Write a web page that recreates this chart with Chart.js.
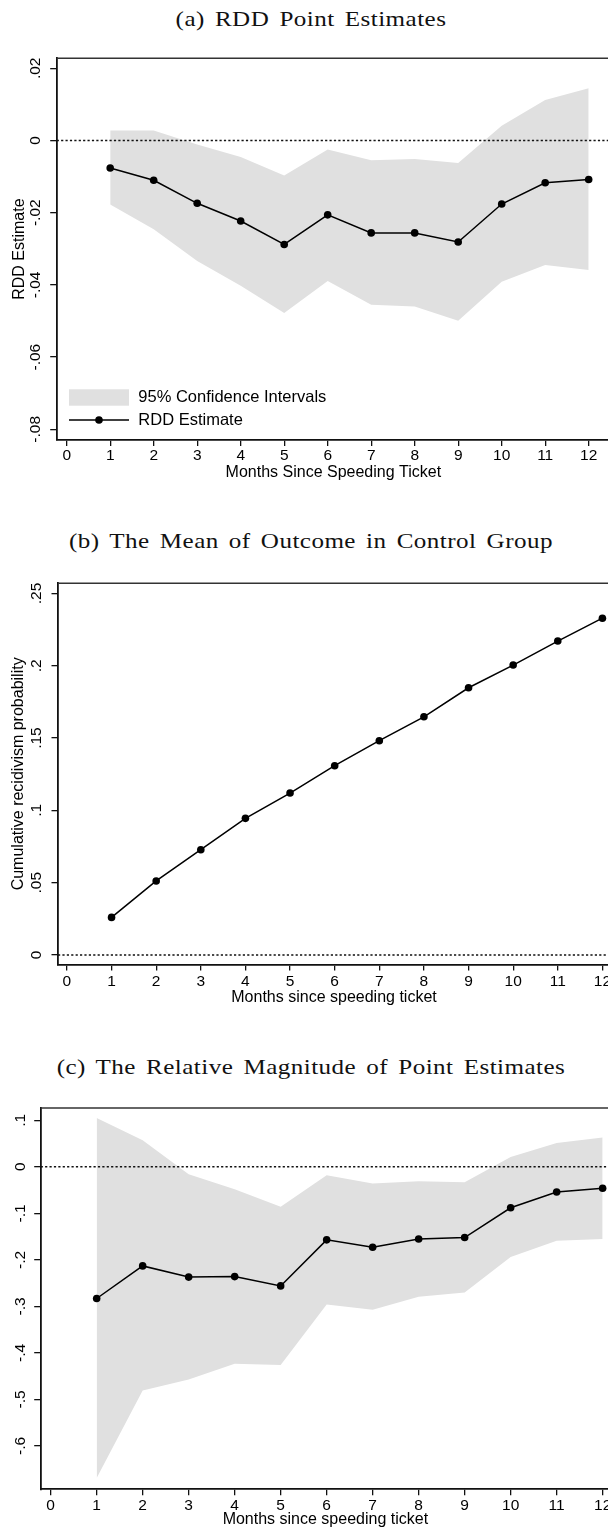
<!DOCTYPE html>
<html lang="en">
<head>
<meta charset="UTF-8">
<meta name="viewport" content="width=device-width, initial-scale=1">
<title>RDD Estimates by Month</title>
<script src="https://cdn.jsdelivr.net/npm/chart.js@4"></script>
<style>
    html, body {
        margin: 0;
        padding: 0;
        background: #fff;
        overflow: hidden;
    }
    body {
        position: relative;
        width: 608px;
        height: 1532px;
    }
    .panel-title {
        position: absolute;
        left: 0;
        width: 622px;
        text-align: center;
        font-family: "Liberation Serif", "Times New Roman", serif;
        font-size: 22px;
        line-height: 1;
        letter-spacing: 0.4px;
        word-spacing: 3px;
        color: #111;
        white-space: nowrap;
        transform: scaleX(1.14);
        transform-origin: 311px 0;
    }
    canvas {
        position: absolute;
        left: 0;
    }
</style>
</head>
<body>
    <div class="panel-title" style="top:8px">(a) RDD Point Estimates</div>
    <canvas id="chartA" width="614" height="490" style="top:0"></canvas>

    <div class="panel-title" style="top:530px">(b) The Mean of Outcome in Control Group</div>
    <canvas id="chartB" width="614" height="520" style="top:490px"></canvas>

    <div class="panel-title" style="top:1056px">(c) The Relative Magnitude of Point Estimates</div>
    <canvas id="chartC" width="614" height="522" style="top:1010px"></canvas>

<script>
// months on the x axis
const months = [1, 2, 3, 4, 5, 6, 7, 8, 9, 10, 11, 12];
const xTicks = [0, 1, 2, 3, 4, 5, 6, 7, 8, 9, 10, 11, 12];
const xLabels = ['0', '1', '2', '3', '4', '5', '6', '7', '8', '9', '10', '11', '12'];

// (a) RDD point estimates + 95% CI
const rddEst   = [-0.0076, -0.0110, -0.0174, -0.0223, -0.0288, -0.0206, -0.0256, -0.0256, -0.0281, -0.0176, -0.0117, -0.0108];
const rddUpper = [0.0028, 0.0028, -0.0011, -0.0046, -0.0097, -0.0025, -0.0055, -0.0051, -0.0062, 0.0041, 0.0112, 0.0145];
const rddLower = [-0.0177, -0.0246, -0.0334, -0.0402, -0.0478, -0.0389, -0.0455, -0.0460, -0.0499, -0.0391, -0.0345, -0.0359];
const yTicksA  = [-0.08, -0.06, -0.04, -0.02, 0, 0.02];
const yLabelsA = ['-.08', '-.06', '-.04', '-.02', '0', '.02'];

// (b) control group mean (cumulative recidivism)
const ctrlMean = [0.0260, 0.0512, 0.0728, 0.0945, 0.1120, 0.1309, 0.1482, 0.1647, 0.1848, 0.2005, 0.2171, 0.2329];
const yTicksB  = [0, 0.05, 0.1, 0.15, 0.2, 0.25];
const yLabelsB = ['0', '.05', '.1', '.15', '.2', '.25'];

// (c) relative magnitude + CI
const relEst   = [-0.283, -0.213, -0.237, -0.236, -0.256, -0.157, -0.173, -0.155, -0.152, -0.088, -0.054, -0.046];
const relUpper = [0.105, 0.057, -0.016, -0.048, -0.086, -0.018, -0.036, -0.031, -0.033, 0.021, 0.051, 0.063];
const relLower = [-0.669, -0.481, -0.457, -0.423, -0.426, -0.296, -0.307, -0.279, -0.270, -0.194, -0.159, -0.155];
const yTicksC  = [-0.6, -0.5, -0.4, -0.3, -0.2, -0.1, 0, 0.1];
const yLabelsC = ['-.6', '-.5', '-.4', '-.3', '-.2', '-.1', '0', '.1'];

const refLine = 0;
const sans = '"Liberation Sans", Arial, Helvetica, sans-serif';
const ink = '#111';
const ciGray = '#e0e0e0';
const tickSize = 15.5;
const titleSize = 16;

const toPoints = (vals) => months.map((m, i) => ({ x: m, y: vals[i] }));

// frame top edge + dotted zero line + optional legend
const framePlugin = {
    id: 'frame',
    afterDatasetsDraw(chart, args, opts) {
        const { ctx, chartArea: a, scales } = chart;
        ctx.save();
        ctx.strokeStyle = '#333';
        ctx.lineWidth = 1.6;
        ctx.beginPath();
        ctx.moveTo(a.left, a.top);
        ctx.lineTo(a.right, a.top);
        ctx.stroke();

        const y0 = scales.y.getPixelForValue(refLine);
        ctx.strokeStyle = '#111';
        ctx.lineWidth = 1.5;
        ctx.setLineDash([2.2, 2.2]);
        ctx.beginPath();
        ctx.moveTo(a.left, y0);
        ctx.lineTo(a.right, y0);
        ctx.stroke();
        ctx.setLineDash([]);

        if (opts.legend) {
            const bx = a.left + 12.3, w = 60;
            const boxTop = a.bottom - 50.7, lineY = a.bottom - 20;
            ctx.fillStyle = ciGray;
            ctx.fillRect(bx, boxTop, w, 16.4);
            ctx.strokeStyle = '#000';
            ctx.lineWidth = 1.5;
            ctx.beginPath();
            ctx.moveTo(bx, lineY);
            ctx.lineTo(bx + w, lineY);
            ctx.stroke();
            ctx.fillStyle = '#000';
            ctx.beginPath();
            ctx.arc(bx + w / 2, lineY, 3.8, 0, Math.PI * 2);
            ctx.fill();
            ctx.font = '16.5px ' + sans;
            ctx.textBaseline = 'middle';
            ctx.textAlign = 'left';
            ctx.fillText('95% Confidence Intervals', bx + w + 9.3, boxTop + 8.2);
            ctx.fillText('RDD Estimate', bx + w + 9.3, lineY);
        }
        ctx.restore();
    }
};

function buildChart(id, o) {
    const datasets = [{
        label: o.lineLabel,
        data: toPoints(o.est),
        borderColor: '#000',
        borderWidth: 1.5,
        pointRadius: 3.8,
        pointBackgroundColor: '#000',
        pointBorderWidth: 0,
        fill: false,
        tension: 0
    }];
    if (o.upper) {
        datasets.push({
            label: '95% Confidence Intervals',
            data: toPoints(o.upper),
            borderWidth: 0,
            pointRadius: 0,
            backgroundColor: ciGray,
            fill: '+1'
        });
        datasets.push({
            label: 'lower',
            data: toPoints(o.lower),
            borderWidth: 0,
            pointRadius: 0,
            fill: false
        });
    }

    return new Chart(document.getElementById(id), {
        type: 'line',
        data: { datasets },
        plugins: [framePlugin],
        options: {
            responsive: false,
            animation: false,
            layout: { padding: { top: o.padTop, right: o.padRight, left: 0, bottom: 0 } },
            plugins: {
                legend: { display: false },
                tooltip: { enabled: false },
                frame: { legend: !!o.legend }
            },
            scales: {
                x: {
                    type: 'linear',
                    min: o.xMin,
                    max: o.xMax,
                    afterBuildTicks: s => { s.ticks = xTicks.map(v => ({ value: v })); },
                    afterFit: s => { s.height = o.xAxisH; },
                    grid: { display: true, drawOnChartArea: false, drawTicks: true, tickLength: 6, color: ink, lineWidth: 1.3 },
                    border: { display: true, color: ink, width: 1.8 },
                    ticks: {
                        color: '#000',
                        font: { family: sans, size: tickSize },
                        padding: o.xPad,
                        maxRotation: 0,
                        autoSkip: false,
                        callback: (v, i) => xLabels[i]
                    },
                    title: {
                        display: true,
                        text: o.xTitle,
                        color: '#000',
                        font: { family: sans, size: titleSize },
                        padding: { top: 0, bottom: o.xTitlePad }
                    }
                },
                y: {
                    type: 'linear',
                    min: o.yMin,
                    max: o.yMax,
                    afterBuildTicks: s => { s.ticks = o.yTicks.map(v => ({ value: v })); },
                    afterFit: s => { s.width = o.yAxisW; },
                    grid: { display: true, drawOnChartArea: false, drawTicks: true, tickLength: 6.5, color: ink, lineWidth: 1.3 },
                    border: { display: true, color: ink, width: 1.8 },
                    ticks: {
                        color: '#000',
                        font: { family: sans, size: tickSize },
                        padding: o.yPad,
                        minRotation: 90,
                        maxRotation: 90,
                        crossAlign: 'center',
                        autoSkip: false,
                        callback: (v, i) => o.yLabels[i]
                    },
                    title: {
                        display: !!o.yTitle,
                        text: o.yTitle || '',
                        color: '#000',
                        font: { family: sans, size: titleSize },
                        padding: { top: o.yTitlePad || 0, bottom: 0 }
                    }
                }
            }
        }
    });
}

buildChart('chartA', {
    est: rddEst, upper: rddUpper, lower: rddLower, lineLabel: 'RDD Estimate', legend: true,
    xMin: -0.23, xMax: 12.49, yMin: -0.08296, yMax: 0.02277,
    yTicks: yTicksA, yLabels: yLabelsA,
    padTop: 58.3, padRight: 4, xAxisH: 50, yAxisW: 56.7,
    xPad: 0.3, yPad: 1.2, xTitlePad: 8, yTitlePad: 9.5,
    xTitle: 'Months Since Speeding Ticket', yTitle: 'RDD Estimate'
});

buildChart('chartB', {
    est: ctrlMean, lineLabel: 'Control mean',
    xMin: -0.2, xMax: 12.17, yMin: -0.00657, yMax: 0.2571,
    yTicks: yTicksB, yLabels: yLabelsB,
    padTop: 93.2, padRight: 4, xAxisH: 45.5, yAxisW: 58,
    xPad: 2.3, yPad: 3.9, xTitlePad: 2.5, yTitlePad: 9.3,
    xTitle: 'Months since speeding ticket', yTitle: 'Cumulative recidivism probability'
});

buildChart('chartC', {
    est: relEst, upper: relUpper, lower: relLower, lineLabel: 'Relative estimate',
    xMin: -0.217, xMax: 12.16, yMin: -0.6931, yMax: 0.1264,
    yTicks: yTicksC, yLabels: yLabelsC,
    padTop: 98, padRight: 4, xAxisH: 42.7, yAxisW: 40.7,
    xPad: 1.5, yPad: 4.2, xTitlePad: 2.5,
    xTitle: 'Months since speeding ticket', yTitle: ''
});
</script>
</body>
</html>
